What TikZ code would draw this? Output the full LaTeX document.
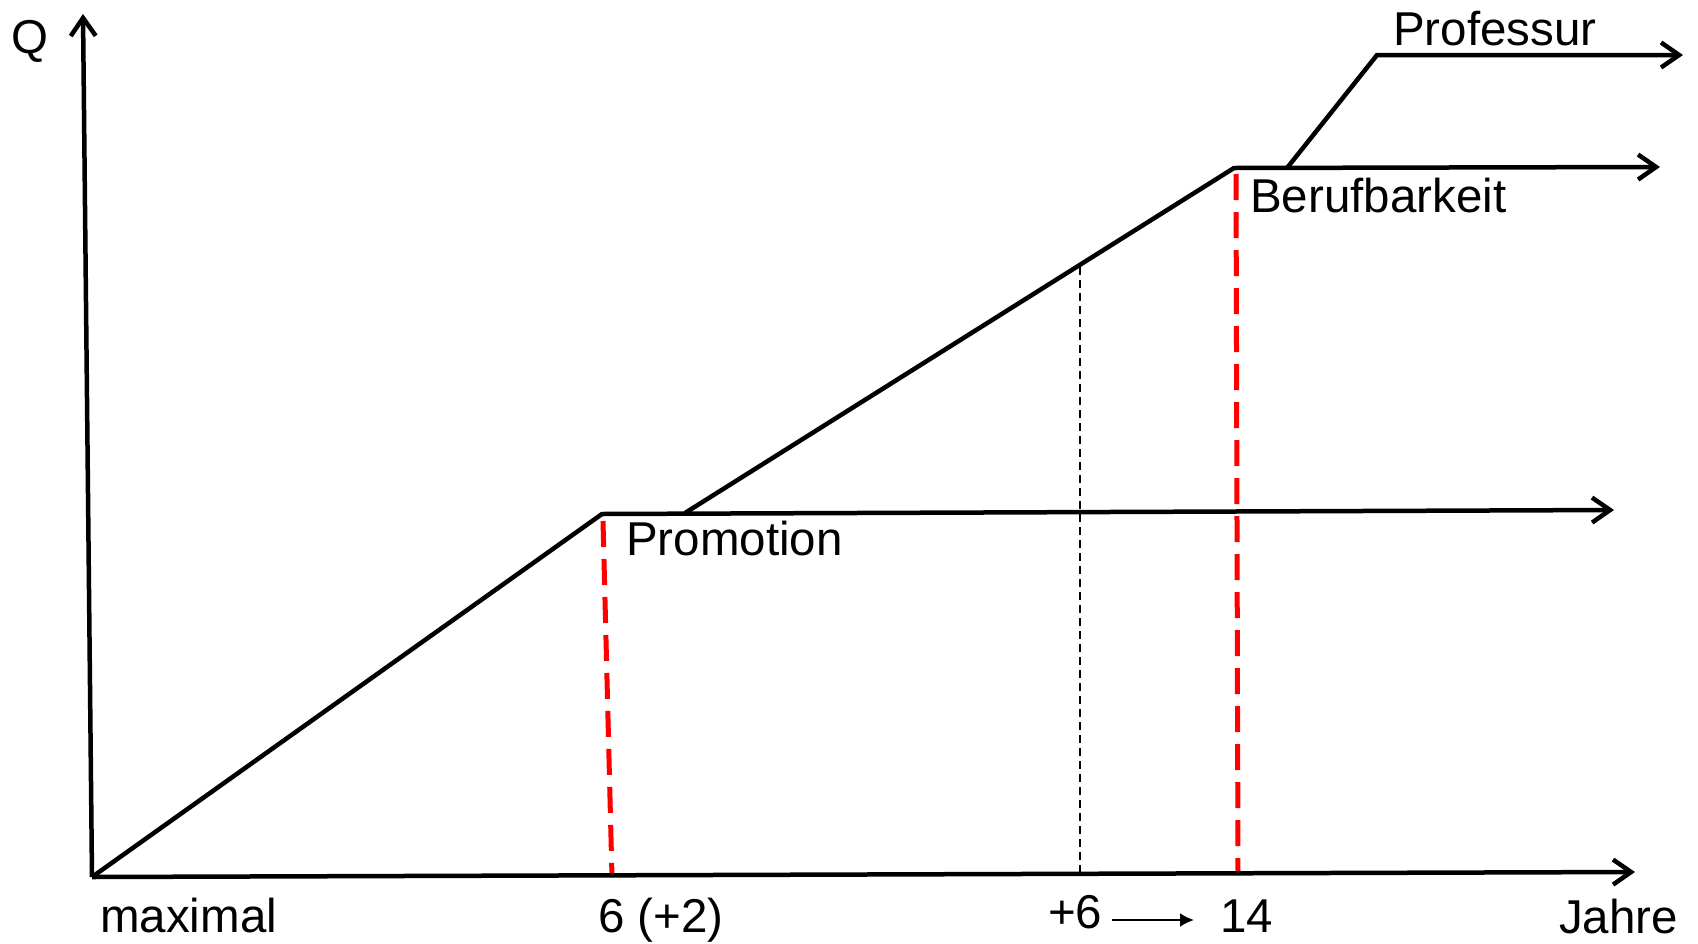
\documentclass[tikz,border=0pt]{standalone}
\usepackage{fontspec}
\setmainfont{Liberation Sans}
\usetikzlibrary{arrows.meta}
\begin{document}
\begin{tikzpicture}[x=1pt,y=-1pt,
  main/.style={line width=4.5pt, line join=miter},
  arr/.style={-{Straight Barb[length=18pt,width=25pt]}},
  reddash/.style={red, line width=5pt, dash pattern=on 26pt off 12pt},
  thindash/.style={line width=1.8pt, dash pattern=on 8pt off 5pt},
  lbl/.style={anchor=base west, inner sep=0pt, font=\fontsize{47.5}{57}\selectfont}]
\useasboundingbox (0,0) rectangle (1698,943);
% coordinates
\coordinate (O) at (92,877);
\coordinate (Ytop) at (83,14);
\coordinate (Xend) at (1635,872);
\coordinate (P) at (602,514);
\coordinate (Pend) at (1614,510);
\coordinate (S) at (685,513);
\coordinate (B) at (1234,168);
\coordinate (Bend) at (1660,167);
\coordinate (R) at (1287,168);
\coordinate (Rc) at (1377,55);
\coordinate (Rend) at (1683,55);
\coordinate (r1a) at (603,521);
\coordinate (r1b) at (612,877);
\coordinate (r2a) at (1236,174);
\coordinate (r2b) at (1238,875);
\coordinate (ta) at (1080,267);
\coordinate (tb) at (1080,873);
\coordinate (sa) at (1112,920);
\coordinate (sb) at (1194,920);
% dashed lines
\draw[reddash] (r1a) -- (r1b);
\draw[reddash] (r2a) -- (r2b);
\draw[thindash] (ta) -- (tb);
% axes
\draw[main, arr] (O) -- (Ytop);
\draw[main, arr] (O) -- (Xend);
% curves
\draw[main, arr] (O) -- (P) -- (Pend);
\draw[main, arr] (S) -- (B) -- (Bend);
\draw[main, arr] (R) -- (Rc) -- (Rend);
% small arrow
\draw[line width=2.5pt, -{Latex[length=14pt,width=14pt]}] (sa) -- (sb);
% labels
\node[lbl] (q) at (11,53) {Q};
\node[lbl] (prof) at (1393,45) {Professur};
\node[lbl] (beruf) at (1250,212) {Berufbarkeit};
\node[lbl] (prom) at (626,555) {Promotion};
\node[lbl] (max) at (100,932) {maximal};
\node[lbl] (six) at (598,932) {6 (+2)};
\node[lbl] (p6) at (1048,928) {+6};
\node[lbl] (fourteen) at (1220,932) {14};
\node[lbl] (jahre) at (1559,933) {Jahre};
\end{tikzpicture}
\end{document}
